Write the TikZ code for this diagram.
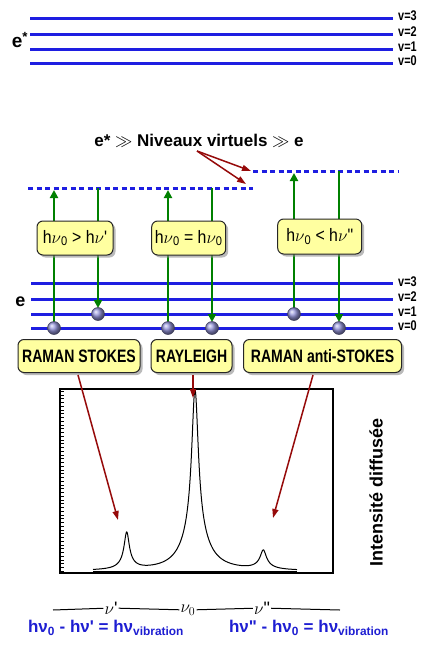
\documentclass[tikz,border=0pt]{standalone}
\usepackage{fontspec}
\setmainfont{Liberation Sans}[Ligatures=TeXOff]
\newfontfamily\nb{Liberation Sans}[FakeStretch=0.78,Ligatures=TeXOff]
\newfontfamily\nc{Liberation Sans}[FakeStretch=0.88,Ligatures=TeXOff]
\usetikzlibrary{arrows.meta,shadows}
\definecolor{lvblue}{RGB}{30,30,225}
\definecolor{agreen}{RGB}{0,128,0}
\definecolor{dred}{RGB}{150,10,10}
\definecolor{boxy}{RGB}{255,255,160}
\definecolor{txtblue}{RGB}{30,30,210}
\definecolor{ballc}{RGB}{150,150,220}
\begin{document}
\begin{tikzpicture}[x=1pt,y=-1pt,
 level/.style={lvblue,line width=3pt},
 vlab/.style={anchor=west,inner sep=0pt,font=\nb\bfseries\fontsize{14}{14}\selectfont},
 virt/.style={lvblue,line width=3pt,dash pattern=on 5pt off 3.5pt},
 garrow/.style={agreen,line width=2.2pt,-{Triangle[length=8pt,width=8pt]}},
 rarrow/.style={dred,line width=1.5pt,-{Triangle[length=9pt,width=6pt]}},
 ballnode/.style={circle,minimum size=13pt,inner sep=0pt,shading=ball,ball color=ballc,draw=ballc!40!black,line width=0.5pt},
 ybox/.style={draw=black!85,line width=1pt,fill=boxy,rounded corners=6pt,
   drop shadow={shadow xshift=2.5pt,shadow yshift=-2.5pt,fill=black!45,opacity=0.6},inner sep=0pt},
 ftxt/.style={font=\nc\fontsize{18}{18}\selectfont},
 ltxt/.style={font=\nb\bfseries\fontsize{18}{18}\selectfont},
 btxt/.style={font=\bfseries\fontsize{17}{17}\selectfont},
 nutxt/.style={fill=white,inner sep=1pt,font=\fontsize{18}{18}\selectfont},
 formula/.style={txtblue,font=\bfseries\fontsize{17}{17}\selectfont,inner sep=0pt},
]
\useasboundingbox (0,0) rectangle (420,658);
\fill[white] (0,0) rectangle (420,658);

% upper electronic state e*
\foreach \y/\v in {19/3,35/2,50/1,64/0}{
  \draw[level] (30,\y) -- (393,\y);
  \node[vlab] (tv\v) at (398,\y-3) {v=\v};
}
\node[btxt,font=\bfseries\fontsize{19}{19}\selectfont] (estar) at (20,40) {e\textsuperscript{*}};

% virtual levels text
\node[btxt] (niv) at (199,141) {e* $\gg$ Niveaux virtuels $\gg$ e};

% virtual levels
\coordinate (dL0) at (28,188);
\coordinate (dL1) at (253,188);
\coordinate (dR0) at (253,171);
\coordinate (dR1) at (398,171);
\draw[virt] (dL0) -- (dL1);
\draw[virt] (dR0) -- (dR1);

\coordinate (rs) at (197,151);
\coordinate (rt1) at (251,171);
\coordinate (rt2) at (246,184);
\draw[rarrow] (rs) -- (rt1);
\draw[rarrow] (rs) -- (rt2);

% lower electronic state e
\foreach \y/\v in {283.5/3,299/2,314/1,328/0}{
  \draw[level] (31,\y) -- (393,\y);
  \node[vlab] (bv\v) at (398,\y-2) {v=\v};
}
\node[btxt,font=\bfseries\fontsize{18}{18}\selectfont] (elow) at (20.5,302) {e};

% ball positions
\coordinate (ps0) at (54,328);
\coordinate (ps1) at (98,314);
\coordinate (pr0) at (168,328);
\coordinate (pr1) at (212,328);
\coordinate (pa0) at (294,314);
\coordinate (pa1) at (339,328);
% top ends
\coordinate (us) at (54,190);
\coordinate (ds) at (98,188);
\coordinate (ur) at (168,190);
\coordinate (dr) at (212,188);
\coordinate (ua) at (294,173);
\coordinate (da) at (339,171);

\draw[garrow] (ps0) -- (us);
\draw[garrow,shorten >=6pt] (ds) -- (ps1);
\draw[garrow] (pr0) -- (ur);
\draw[garrow,shorten >=6pt] (dr) -- (pr1);
\draw[garrow] (pa0) -- (ua);
\draw[garrow,shorten >=6pt] (da) -- (pa1);

\foreach \b in {s0,s1,r0,r1,a0,a1}{
  \node[ballnode] (\b) at (p\b) {};
}

% formula boxes
\node[ybox,minimum width=76pt,minimum height=34pt,ftxt] (fS) at (75,238) {h$\nu$\textsubscript{0} > h$\nu$'};
\node[ybox,minimum width=74pt,minimum height=34pt,ftxt] (fR) at (188.7,238) {h$\nu$\textsubscript{0} = h$\nu$\textsubscript{0}};
\node[ybox,minimum width=84pt,minimum height=35pt,ftxt] (fA) at (319.7,236.5) {h$\nu$\textsubscript{0} < h$\nu$"};

% label boxes
\node[ybox,minimum width=122pt,minimum height=33pt,ltxt] (lS) at (79,356) {RAMAN STOKES};
\node[ybox,minimum width=81pt,minimum height=33pt,ltxt] (lR) at (191.5,356) {RAYLEIGH};
\node[ybox,minimum width=158pt,minimum height=33pt,ltxt] (lA) at (322.5,356) {RAMAN anti-STOKES};

% spectrum
\node[draw,line width=1.3pt,minimum width=273pt,minimum height=184pt,inner sep=0pt] (frame) at (196.5,481) {};
\foreach \t in {0,...,48}{
  \draw[line width=0.5pt] (61,391+\t*3.75) -- ++(2.5,0);
}
\begin{scope}
\clip (60,389) rectangle (333,573);
\draw[line width=1pt] plot[domain=93:297,samples=500,smooth]
 (\x,{571 - (141*0.16/(((\x-195)/10)^2+0.16) + 40*1.96/(((\x-195)/10)^2+1.96)
   + 30*0.09/(((\x-126.7)/10)^2+0.09) + 7*0.64/(((\x-126.7)/10)^2+0.64)
   + 14*0.12/(((\x-263.3)/10)^2+0.12) + 5*0.8/(((\x-263.3)/10)^2+0.8))});
\end{scope}
\draw[line width=2pt] (93,572) -- (297,572);

\coordinate (tS) at (118,520);
\coordinate (tR) at (193,398);
\coordinate (tA) at (273,518);
\draw[rarrow] ([xshift=-1pt,yshift=-2pt]lS.south) -- (tS);
\draw[rarrow] ([xshift=1.5pt,yshift=-2pt]lR.south) -- (tR);
\draw[rarrow] ([xshift=-9.5pt,yshift=-2pt]lA.south) -- (tA);

\node[rotate=90,font=\bfseries\fontsize{18}{18}\selectfont] (int) at (376,492) {Intensité diffusée};

% frequency axis
\node[nutxt] (nup) at (111,608) {$\nu$'};
\node[nutxt] (nu0) at (188,610) {$\nu_0$};
\node[nutxt] (nupp) at (262,608) {$\nu$"};
\coordinate (ax0) at (53,610);
\coordinate (ax1) at (340,610);
\draw[line width=1pt] (ax0) -- (nup) -- (nu0) -- (nupp) -- (ax1);

% bottom formulas
\node[formula] (eqS) at (106,628) {hν\textsubscript{0} - hν' = hν\textsubscript{vibration}};
\node[formula] (eqA) at (309,628) {hν" - hν\textsubscript{0} = hν\textsubscript{vibration}};
\end{tikzpicture}
\end{document}
